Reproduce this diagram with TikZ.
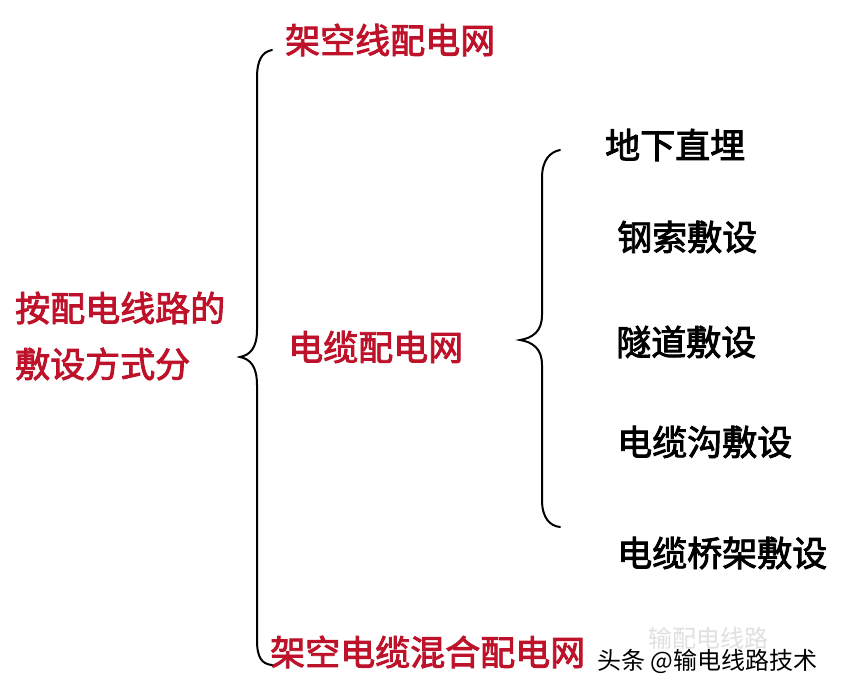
\documentclass[tikz,border=0pt]{standalone}
\usepackage{fontspec}
\usepackage{tikz}
\newfontfamily\cjk{Noto Sans CJK SC}
\newfontfamily\cjkbf{Noto Sans CJK SC}[FakeBold=2.5]
\newfontfamily\cjkmark{Noto Sans CJK SC}
\definecolor{lineRed}{RGB}{190,18,42}

\begin{document}
\begin{tikzpicture}[x=1pt,y=-1pt]
    \tikzset{RT/.style={anchor=west,inner sep=0pt,text=lineRed,font=\cjkbf\fontsize{35}{42}\selectfont}}
    \tikzset{BT/.style={anchor=west,inner sep=0pt,text=black,font=\cjkbf\fontsize{35}{42}\selectfont}}
    \tikzset{BR/.style={draw=black,line width=2pt,line cap=round}}
    \tikzset{WM/.style={anchor=west,inner sep=0pt,font=\cjkmark\fontsize{24}{28}\selectfont}}

    \useasboundingbox[fill=white] (0,0) rectangle (842,690);

    \node (root1) [RT] at (15, 308) {按配电线路的};
    \node (root2) [RT] at (15, 364) {敷设方式分};
    	\node (air) [RT] at (285, 40) {架空线配电网};
    	\node (cable) [RT] at (288, 347) {电缆配电网};
    		\node (bury) [BT] at (605, 145) {地下直埋};
    		\node (rope) [BT] at (617, 237) {钢索敷设};
    		\node (tunnel) [BT] at (616, 342) {隧道敷设};
    		\node (trench) [BT] at (617, 442) {电缆沟敷设};
    		\node (tray) [BT] at (617, 553) {电缆桥架敷设};
    	\node (mixed) [RT] at (270, 652) {架空电缆混合配电网};

    \node (mark1) [WM,text=black!12] at (648, 638) {输配电线路};
    \node (mark2) [WM,text=black] at (597, 661) {头条 @输电线路技术};

    % left brace
    \draw[BR] (272,50) .. controls (262,52) and (257,60) .. (257,78)
        -- (257,330) .. controls (257,348) and (250,355) .. (240,357)
        .. controls (250,359) and (257,366) .. (257,385)
        -- (257,640) .. controls (257,658) and (262,664) .. (272,665);
    % right brace
    \draw[BR] (560,150) .. controls (550,152) and (542,160) .. (542,178)
        -- (542,315) .. controls (542,332) and (532,338) .. (520,340)
        .. controls (532,342) and (542,348) .. (542,365)
        -- (542,500) .. controls (542,518) and (550,526) .. (560,527);
\end{tikzpicture}
\end{document}
